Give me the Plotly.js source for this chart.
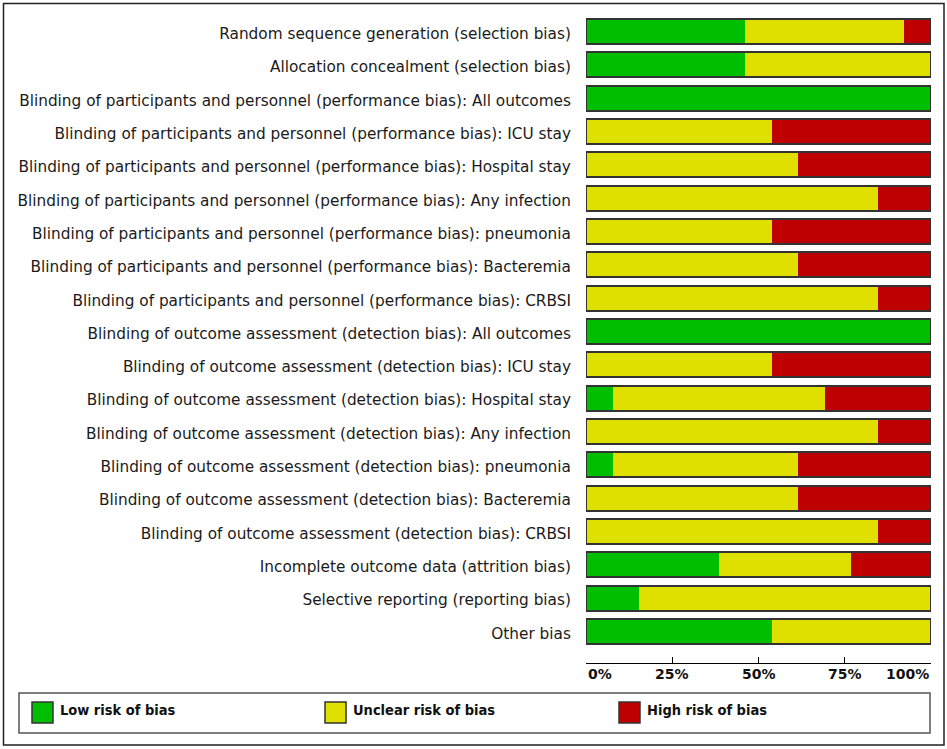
<!DOCTYPE html>
<html>
<head>
<meta charset="utf-8">
<script src="https://cdn.plot.ly/plotly-3.0.1.min.js"></script>
<style>html,body{margin:0;padding:0;background:#fff;}#chart{width:947px;height:749px;}</style>
</head>
<body>
<div id="chart"></div>
<script>
// ---- data ----
const categories = [
  "Random sequence generation (selection bias)",
  "Allocation concealment (selection bias)",
  "Blinding of participants and personnel (performance bias): All outcomes",
  "Blinding of participants and personnel (performance bias): ICU stay",
  "Blinding of participants and personnel (performance bias): Hospital stay",
  "Blinding of participants and personnel (performance bias): Any infection",
  "Blinding of participants and personnel (performance bias): pneumonia",
  "Blinding of participants and personnel (performance bias): Bacteremia",
  "Blinding of participants and personnel (performance bias): CRBSI",
  "Blinding of outcome assessment (detection bias): All outcomes",
  "Blinding of outcome assessment (detection bias): ICU stay",
  "Blinding of outcome assessment (detection bias): Hospital stay",
  "Blinding of outcome assessment (detection bias): Any infection",
  "Blinding of outcome assessment (detection bias): pneumonia",
  "Blinding of outcome assessment (detection bias): Bacteremia",
  "Blinding of outcome assessment (detection bias): CRBSI",
  "Incomplete outcome data (attrition bias)",
  "Selective reporting (reporting bias)",
  "Other bias"
];
// number of studies per judgement
const lowRisk     = [6, 6, 13, 0, 0, 0, 0, 0, 0, 13, 0, 1, 0, 1, 0, 0, 5, 2, 7];
const unclearRisk = [6, 7, 0, 7, 8, 11, 7, 8, 11, 0, 7, 8, 11, 7, 8, 11, 5, 11, 6];
const highRisk    = [1, 0, 0, 6, 5, 2, 6, 5, 2, 0, 6, 4, 2, 5, 5, 2, 3, 0, 0];
const seriesNames = ["Low risk of bias", "Unclear risk of bias", "High risk of bias"];
const tickVals = [0, 25, 50, 75, 100];
const tickLabels = ["0%", "25%", "50%", "75%", "100%"];

// ---- style ----
const colors = ["#00bf00", "#e0e000", "#bf0000"];
const L = 586, R = 931, T = 15, B = 663, W = 947, H = 749;
const px = x => (x - L) / (R - L);
const py = y => (B - y) / (B - T);

const seriesData = [lowRisk, unclearRisk, highRisk];
const traces = seriesData.map((vals, i) => ({
  type: "bar", orientation: "h",
  x: vals, y: categories, name: seriesNames[i],
  marker: {color: colors[i], line: {width: 0}},
  width: 0.75, hoverinfo: "name+x", showlegend: false,
  xaxis: "x", yaxis: "y"
}));
const totals = categories.map((c, i) => lowRisk[i] + unclearRisk[i] + highRisk[i]);
traces.push({
  type: "bar", orientation: "h", x: totals, y: categories,
  marker: {color: "rgba(0,0,0,0)", line: {width: 2, color: "#333"}},
  width: 0.75, hoverinfo: "skip", showlegend: false,
  xaxis: "x", yaxis: "y2"
});

const yRange = [18.95, -0.5];
const shapes = [
  {type: "rect", xref: "paper", yref: "paper", x0: px(3.5), x1: px(944), y0: py(745), y1: py(3.5),
   line: {color: "#222", width: 1.5}, fillcolor: "rgba(0,0,0,0)", layer: "below"},
  {type: "rect", xref: "paper", yref: "paper", x0: px(19), x1: px(930), y0: py(733), y1: py(693),
   line: {color: "#555", width: 1.5}, fillcolor: "rgba(0,0,0,0)"}
];
const annotations = [];
const legendX = [32, 325, 619];
seriesNames.forEach((n, i) => {
  shapes.push({type: "rect", xref: "paper", yref: "paper",
    x0: px(legendX[i]), x1: px(legendX[i] + 21), y0: py(723), y1: py(702),
    fillcolor: colors[i], line: {color: "#333", width: 1.5}});
  annotations.push({xref: "paper", yref: "paper", x: px(legendX[i] + 26), y: py(710),
    xanchor: "left", yanchor: "middle", text: n, showarrow: false,
    font: {family: "DejaVu Sans Condensed, DejaVu Sans", size: 14.5, weight: "bold", color: "#111"}});
});
tickLabels.forEach((t, i) => {
  annotations.push({xref: "x", yref: "paper", x: tickVals[i], y: py(674),
    xanchor: i === 0 ? "left" : (i === tickLabels.length - 1 ? "right" : "center"),
    yanchor: "middle", text: t, showarrow: false,
    font: {family: "DejaVu Sans", size: 14, weight: "bold", color: "#111"}});
});

const layout = {
  width: W, height: H,
  margin: {l: L, r: W - R, t: T, b: H - B, pad: 0},
  paper_bgcolor: "#fff", plot_bgcolor: "#fff",
  barmode: "stack", barnorm: "percent",
  showlegend: false,
  xaxis: {range: [0, 100], tickvals: tickVals, showticklabels: false,
    ticks: "inside", ticklen: 6, tickcolor: "#000", tickwidth: 1,
    showline: true, linecolor: "#000", linewidth: 1, showgrid: false, zeroline: false,
    fixedrange: true},
  yaxis: {type: "category", categoryorder: "array", categoryarray: categories,
    range: yRange, showgrid: false, zeroline: false, showline: false,
    ticks: "outside", ticklen: 11, tickcolor: "rgba(0,0,0,0)", ticklabelshift: -2,
    tickfont: {family: "DejaVu Sans", size: 15.3, color: "#1a1a1a"}, fixedrange: true},
  yaxis2: {type: "category", categoryorder: "array", categoryarray: categories,
    range: yRange, overlaying: "y", showticklabels: false, showgrid: false,
    zeroline: false, ticks: "", fixedrange: true},
  shapes: shapes, annotations: annotations
};
Plotly.newPlot("chart", traces, layout, {displayModeBar: false, staticPlot: true});
</script>
</body>
</html>
